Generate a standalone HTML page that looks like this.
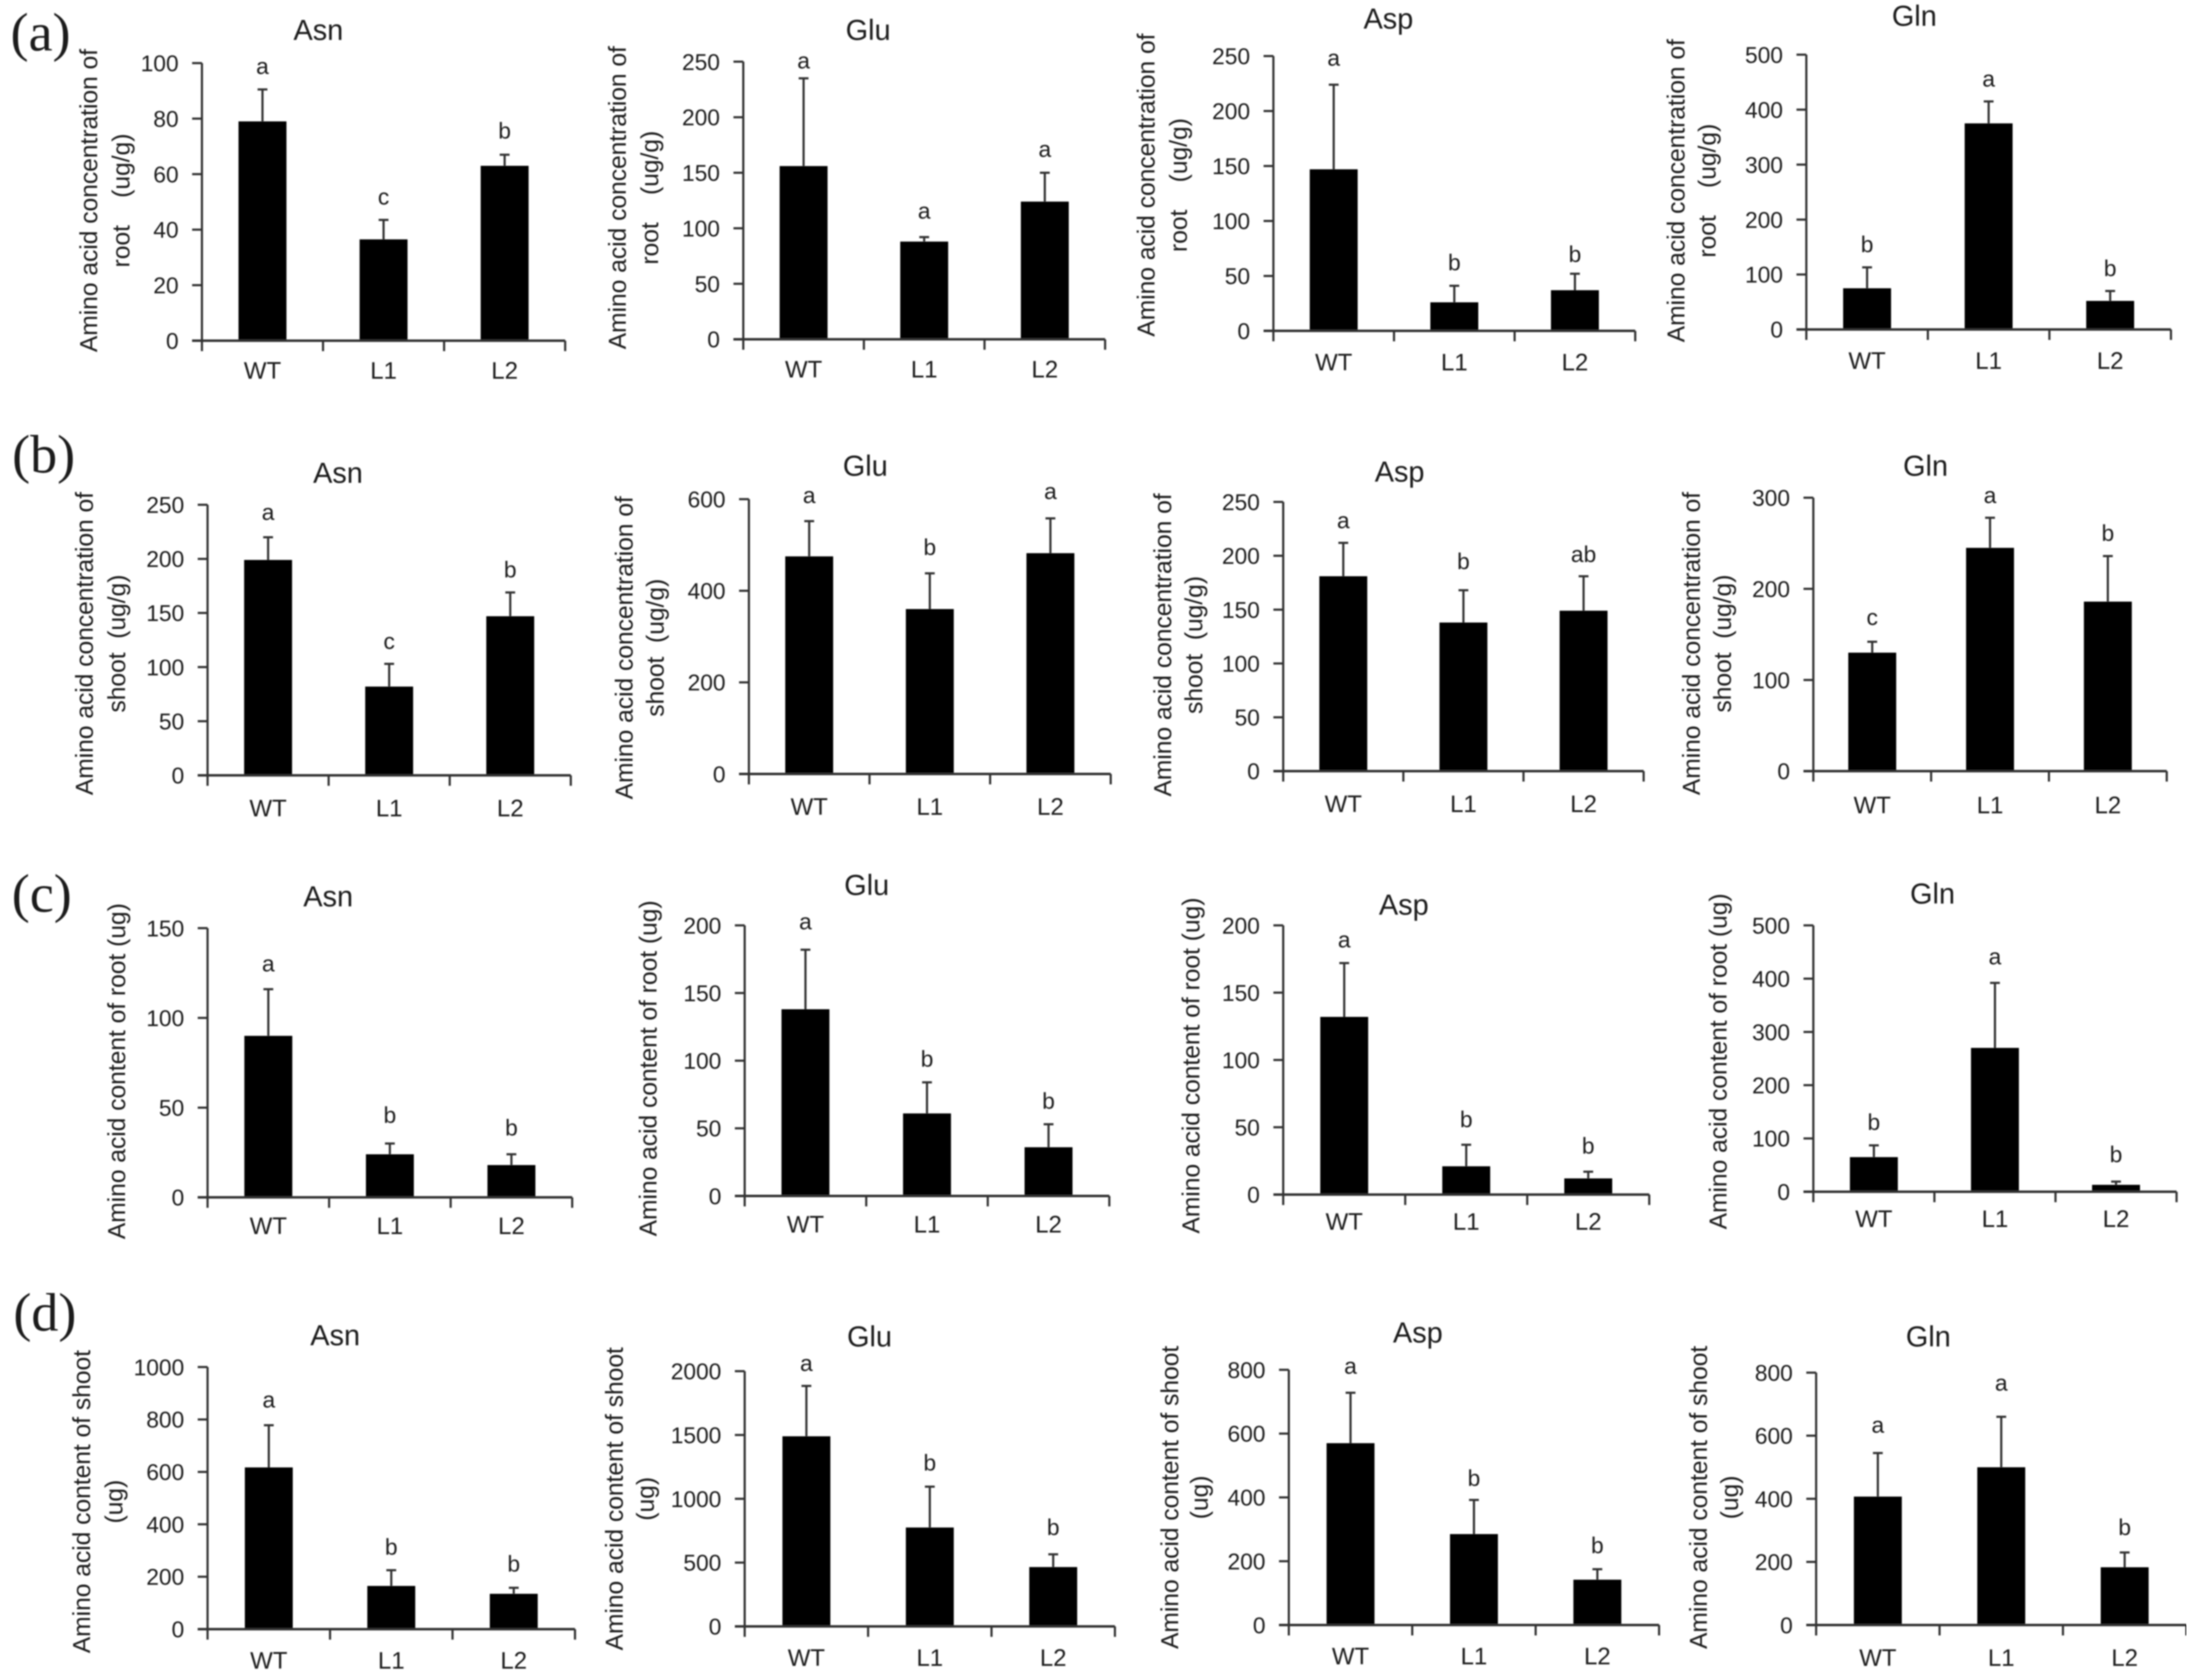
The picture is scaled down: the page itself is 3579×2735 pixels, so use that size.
<!DOCTYPE html>
<html lang="en">
<head>
<meta charset="utf-8">
<title>Amino acid concentration and content bar charts</title>
<style>
html,body{margin:0;padding:0;background:#fff;width:3579px;height:2735px;overflow:hidden}
svg{display:block}
text{font-family:"Liberation Sans",Arial,sans-serif;fill:#1c1c1c;white-space:pre}
</style>
</head>
<body>
<svg id="figure" xmlns="http://www.w3.org/2000/svg" width="3579" height="2735" viewBox="0 0 3579 2735">
<defs><filter id="soft" x="0" y="0" width="100%" height="100%"><feGaussianBlur stdDeviation="1.1"/></filter></defs>
<rect width="3579" height="2735" fill="#fff"/>
<g id="plot" filter="url(#soft)">
<text x="66" y="82" font-size="88" style="font-family:'Liberation Serif',serif" text-anchor="middle">(a)</text>
<text x="71" y="769" font-size="88" style="font-family:'Liberation Serif',serif" text-anchor="middle">(b)</text>
<text x="68" y="1484" font-size="88" style="font-family:'Liberation Serif',serif" text-anchor="middle">(c)</text>
<text x="73" y="2166" font-size="88" style="font-family:'Liberation Serif',serif" text-anchor="middle">(d)</text>
</g>
</svg>
<script>
// ---- data ----
const categories = ['WT','L1','L2'];

const ticks100 = ['0','20','40','60','80','100'];
const ticks150 = ['0','50','100','150'];
const ticks200 = ['0','50','100','150','200'];
const ticks250 = ['0','50','100','150','200','250'];
const ticks300 = ['0','100','200','300'];
const ticks500 = ['0','100','200','300','400','500'];
const ticks600 = ['0','200','400','600'];
const ticks800 = ['0','200','400','600','800'];
const ticks1000 = ['0','200','400','600','800','1000'];
const ticks2000 = ['0','500','1000','1500','2000'];

const rootConcAsnValues = [79,36.5,63];
const rootConcAsnUpper = [90.5,43.5,67];
const rootConcAsnLetters = ['a','c','b'];
const rootConcGluValues = [156,88,124];
const rootConcGluUpper = [235,92,150];
const rootConcGluLetters = ['a','a','a'];
const rootConcAspValues = [147,26,37];
const rootConcAspUpper = [224,41,52];
const rootConcAspLetters = ['a','b','b'];
const rootConcGlnValues = [75,375,52];
const rootConcGlnUpper = [113,415,70];
const rootConcGlnLetters = ['b','a','b'];

const shootConcAsnValues = [199,82,147];
const shootConcAsnUpper = [220,103,169];
const shootConcAsnLetters = ['a','c','b'];
const shootConcGluValues = [475,360,482];
const shootConcGluUpper = [552,438,558];
const shootConcGluLetters = ['a','b','a'];
const shootConcAspValues = [181,138,149];
const shootConcAspUpper = [212,168,181];
const shootConcAspLetters = ['a','b','ab'];
const shootConcGlnValues = [130,245,186];
const shootConcGlnUpper = [142,278,236];
const shootConcGlnLetters = ['c','a','b'];

const rootContAsnValues = [90,24,18];
const rootContAsnUpper = [116,30,24];
const rootContAsnLetters = ['a','b','b'];
const rootContGluValues = [138,61,36];
const rootContGluUpper = [182,84,53];
const rootContGluLetters = ['a','b','b'];
const rootContAspValues = [132,21,12];
const rootContAspUpper = [172,37,17];
const rootContAspLetters = ['a','b','b'];
const rootContGlnValues = [65,270,13];
const rootContGlnUpper = [87,392,19];
const rootContGlnLetters = ['b','a','b'];

const shootContAsnValues = [617,165,135];
const shootContAsnUpper = [778,225,158];
const shootContAsnLetters = ['a','b','b'];
const shootContGluValues = [1490,775,465];
const shootContGluUpper = [1885,1095,565];
const shootContGluLetters = ['a','b','b'];
const shootContAspValues = [570,285,142];
const shootContAspUpper = [728,392,175];
const shootContAspLetters = ['a','b','b'];
const shootContGlnValues = [407,500,183];
const shootContGlnUpper = [545,660,230];
const shootContGlnLetters = ['a','a','b'];

const conc1 = 'Amino acid concentration of';
const cont1 = 'Amino acid content of shoot';
const contRoot = 'Amino acid content of root (ug)';

// ---- panels: data references plus layout (layout in reduced figure units) ----
const S = 3579/1568;
const panels = [
 {id:'root-conc-asn',title:'Asn',v:rootConcAsnValues,u:rootConcAsnUpper,l:rootConcAsnLetters,t:ticks100,x0:144,xr:403,top:45,base:243,ly:[48,141,94],tp:[227,21],xl:264,yl:[63,86,143],y1:conc1,y2:'root    (ug/g)'},
 {id:'root-conc-glu',title:'Glu',v:rootConcGluValues,u:rootConcGluUpper,l:rootConcGluLetters,t:ticks250,x0:530,xr:788,top:44,base:242,ly:[44,151,107],tp:[619,21],xl:263,yl:[440,463,141],y1:conc1,y2:'root    (ug/g)'},
 {id:'root-conc-asp',title:'Asp',v:rootConcAspValues,u:rootConcAspUpper,l:rootConcAspLetters,t:ticks250,x0:908,xr:1166,top:40,base:236,ly:[42,188,182],tp:[990,13],xl:258,yl:[817,840,132],y1:conc1,y2:'root    (ug/g)'},
 {id:'root-conc-gln',title:'Gln',v:rootConcGlnValues,u:rootConcGlnUpper,l:rootConcGlnLetters,t:ticks500,x0:1288,xr:1548,top:39,base:235,ly:[175,57,192],tp:[1365,11],xl:257,yl:[1195,1217,136],y1:conc1,y2:'root    (ug/g)'},

 {id:'shoot-conc-asn',title:'Asn',v:shootConcAsnValues,u:shootConcAsnUpper,l:shootConcAsnLetters,t:ticks250,x0:148,xr:407,top:360,base:553,ly:[366,458,407],tp:[241,337],xl:576,yl:[60,83,459],y1:conc1,y2:'shoot  (ug/g)'},
 {id:'shoot-conc-glu',title:'Glu',v:shootConcGluValues,u:shootConcGluUpper,l:shootConcGluLetters,t:ticks600,x0:534,xr:792,top:356,base:552,ly:[354,391,351],tp:[617,332],xl:575,yl:[445,467,462],y1:conc1,y2:'shoot  (ug/g)'},
 {id:'shoot-conc-asp',title:'Asp',v:shootConcAspValues,u:shootConcAspUpper,l:shootConcAspLetters,t:ticks250,x0:915,xr:1172,top:358,base:550,ly:[372,401,396],tp:[998,336],xl:573,yl:[829,851,460],y1:conc1,y2:'shoot  (ug/g)'},
 {id:'shoot-conc-gln',title:'Gln',v:shootConcGlnValues,u:shootConcGlnUpper,l:shootConcGlnLetters,t:ticks300,x0:1293,xr:1545,top:355,base:550,ly:[441,354,381],tp:[1373,332],xl:574,yl:[1206,1228,459],y1:conc1,y2:'shoot  (ug/g)'},

 {id:'root-cont-asn',title:'Asn',v:rootContAsnValues,u:rootContAsnUpper,l:rootContAsnLetters,t:ticks150,x0:148,xr:408,top:662,base:854,ly:[688,796,805],tp:[234,639],xl:874,yl:[83,0,764],y1:contRoot,y2:''},
 {id:'root-cont-glu',title:'Glu',v:rootContGluValues,u:rootContGluUpper,l:rootContGluLetters,t:ticks200,x0:531,xr:791,top:660,base:853,ly:[658,756,786],tp:[618,631],xl:873,yl:[462,0,762],y1:contRoot,y2:''},
 {id:'root-cont-asp',title:'Asp',v:rootContAspValues,u:rootContAspUpper,l:rootContAspLetters,t:ticks200,x0:915,xr:1176,top:660,base:852,ly:[671,799,818],tp:[1001,645],xl:871,yl:[849,0,760],y1:contRoot,y2:''},
 {id:'root-cont-gln',title:'Gln',v:rootContGlnValues,u:rootContGlnUpper,l:rootContGlnLetters,t:ticks500,x0:1293,xr:1552,top:660,base:850,ly:[801,683,824],tp:[1378,637],xl:869,yl:[1225,0,757],y1:contRoot,y2:''},

 {id:'shoot-cont-asn',title:'Asn',v:shootContAsnValues,u:shootContAsnUpper,l:shootContAsnLetters,t:ticks1000,x0:148,xr:410,top:975,base:1162,ly:[999,1104,1116],tp:[239,952],xl:1184,yl:[58,81,1071],y1:cont1,y2:'(ug)'},
 {id:'shoot-cont-glu',title:'Glu',v:shootContGluValues,u:shootContGluUpper,l:shootContGluLetters,t:ticks2000,x0:531,xr:795,top:978,base:1160,ly:[973,1044,1090],tp:[620,953],xl:1182,yl:[438,460,1069],y1:cont1,y2:'(ug)'},
 {id:'shoot-cont-asp',title:'Asp',v:shootContAspValues,u:shootContAspUpper,l:shootContAspLetters,t:ticks800,x0:919,xr:1183,top:977,base:1159,ly:[975,1055,1103],tp:[1011,950],xl:1181,yl:[834,855,1068],y1:cont1,y2:'(ug)'},
 {id:'shoot-cont-gln',title:'Gln',v:shootContGlnValues,u:shootContGlnUpper,l:shootContGlnLetters,t:ticks800,x0:1295,xr:1559,top:979,base:1159,ly:[1017,987,1090],tp:[1375,953],xl:1182,yl:[1211,1233,1068],y1:cont1,y2:'(ug)'}
];

const NS = 'http://www.w3.org/2000/svg';
const AXIS = '#333';
const root = document.getElementById('plot');

function el(tag, attrs, parent, txt){
  const n = document.createElementNS(NS, tag);
  for (const k in attrs) n.setAttribute(k, attrs[k]);
  if (txt !== undefined) n.textContent = txt;
  parent.appendChild(n);
  return n;
}

function drawPanel(p){
  const maxV = Number(p.t[p.t.length-1]);
  const yScale = v => S*(p.base - (v/maxV)*(p.base-p.top));
  const step = S*(p.xr-p.x0)/categories.length;
  const left = S*p.x0;
  const xCenter = i => left + step*(i+0.5);
  const barW = 78;

  const g = el('g', {}, root);
  
  

  const title = el('text', {x:S*p.tp[0], y:S*p.tp[1], 'font-size':47, 'text-anchor':'middle', dy:'.36em'}, g, p.title);
  
  

  const yl1 = el('text', {'font-size':40, 'text-anchor':'middle', transform:`translate(${S*p.yl[0]+14},${S*p.yl[2]}) rotate(-90)`}, g, p.y1);
  
  
  if (p.y2) {
    const yl2 = el('text', {'font-size':40, 'text-anchor':'middle', transform:`translate(${S*p.yl[1]+14},${S*p.yl[2]}) rotate(-90)`}, g, p.y2);
    
    
  }

  p.v.forEach((val, i) => {
    const cx = xCenter(i);
    const bar = el('rect', {x:cx-barW/2, y:yScale(val), width:barW, height:yScale(0)-yScale(val), fill:'#000'}, g);
    
    

    const err = el('path', {d:`M${cx} ${yScale(val)}V${yScale(p.u[i])}M${cx-8} ${yScale(p.u[i])}H${cx+8}`, stroke:AXIS, 'stroke-width':3.5, fill:'none'}, g);
    
    

    const letter = el('text', {x:cx, y:S*p.ly[i], 'font-size':37, 'text-anchor':'middle', dy:'.3em'}, g, p.l[i]);
    
    

    const cat = el('text', {x:cx, y:S*p.xl, 'font-size':39, 'text-anchor':'middle', dy:'.36em'}, g, categories[i]);
    
    
  });

  const yAxis = el('line', {x1:left, x2:left, y1:yScale(maxV), y2:yScale(0)+17, stroke:AXIS, 'stroke-width':3.5}, g);
  
  

  const xAxis = el('line', {x1:left-16, x2:S*p.xr, y1:yScale(0), y2:yScale(0), stroke:AXIS, 'stroke-width':4}, g);
  
  

  for (let i = 1; i <= categories.length; i++) {
    const xt = el('line', {x1:left+step*i, x2:left+step*i, y1:yScale(0), y2:yScale(0)+17, stroke:AXIS, 'stroke-width':3.5}, g);
    
    
  }

  p.t.forEach(label => {
    const y = yScale(Number(label));
    const tk = el('line', {x1:left-16, x2:left, y1:y, y2:y, stroke:AXIS, 'stroke-width':3.5}, g);
    
    
    const tl = el('text', {x:left-38, y:y, 'font-size':37, 'text-anchor':'end', dy:'.36em'}, g, label);
    
    
  });
}

panels.forEach(drawPanel);
</script>
</body>
</html>
